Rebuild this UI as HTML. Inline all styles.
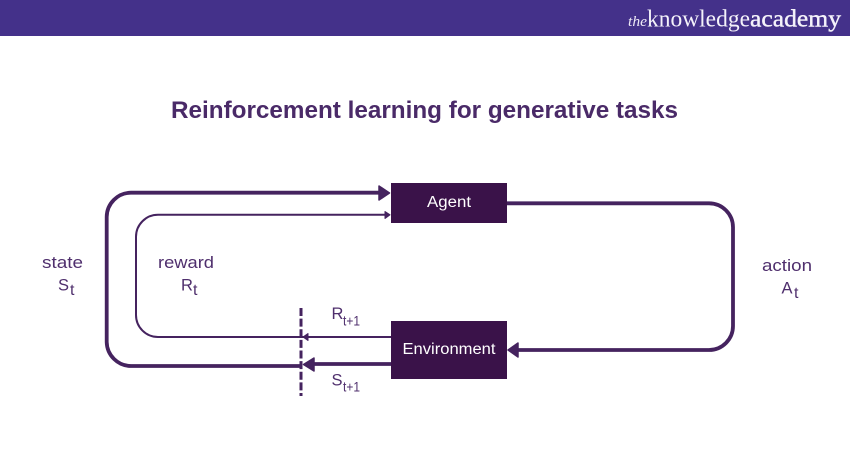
<!DOCTYPE html>
<html><head><meta charset="utf-8"><style>
html,body{margin:0;padding:0;background:#fff}
svg{display:block}
text{font-family:"Liberation Sans",sans-serif}
</style></head><body>
<svg width="850" height="450" viewBox="0 0 850 450" xmlns="http://www.w3.org/2000/svg">
<rect width="850" height="450" fill="#fff"/>
<rect width="850" height="36" fill="#44318a"/>
<text x="628" y="26" font-style="italic" font-size="15" fill="#eeeaf6" style="font-family:'Liberation Serif',serif" textLength="19" lengthAdjust="spacingAndGlyphs">the</text>
<text x="647" y="26.500" style="font-family:'Liberation Serif',serif" font-size="24" fill="#f4f2fa" textLength="103" lengthAdjust="spacingAndGlyphs">knowledge</text>
<text x="750" y="26.500" style="font-family:'Liberation Serif',serif" font-size="24" fill="#f4f2fa" stroke="#f4f2fa" stroke-width="0.400" textLength="91" lengthAdjust="spacingAndGlyphs">academy</text>

<text x="171" y="118" font-size="24" font-weight="bold" fill="#4a2a68" textLength="507" lengthAdjust="spacingAndGlyphs">Reinforcement learning for generative tasks</text>

<g fill="none" stroke="#45235f" stroke-linecap="butt">
<path d="M380 192.700H131A24.500 24.500 0 0 0 106.700 217V342A24.500 24.500 0 0 0 131 366H300" stroke-width="3.800"/>
<path d="M385 214.800H158A22 22 0 0 0 136 236.800V315A22 22 0 0 0 158 337H391" stroke-width="2"/>
<path d="M507 203.300H709A24 24 0 0 1 733 227.300V326A24 24 0 0 1 709 350H518" stroke-width="3.800"/>
<path d="M312 364H391" stroke-width="3.800"/>
<path d="M301 308V396" stroke-width="3" stroke-dasharray="8 2.630"/>
</g>
<g fill="#45235f" stroke="#45235f" stroke-linejoin="round">
<path d="M379 186L389.500 193L379 200Z" stroke-width="1.500"/>
<path d="M385 211.500L390 214.800L385 218.500Z" stroke-width="1"/>
<path d="M508 350L518 343V357Z" stroke-width="1.500"/>
<path d="M303 337L308 333.500V340.500Z" stroke-width="1"/>
<path d="M303.500 364.500L314 358V371Z" stroke-width="1.500"/>
</g>

<rect x="391" y="183" width="116" height="40" fill="#3a1249"/>
<rect x="391" y="321" width="116" height="58" fill="#3a1249"/>
<text x="427" y="207" font-size="15.500" fill="#fff" textLength="44" lengthAdjust="spacingAndGlyphs">Agent</text>
<text x="402.500" y="354" font-size="15.500" fill="#fff" textLength="93" lengthAdjust="spacingAndGlyphs">Environment</text>

<g fill="#4f2f6d" font-size="16.500">
<text x="42" y="268" textLength="41" lengthAdjust="spacingAndGlyphs">state</text>
<text x="58" y="290.500">S</text>
<text x="70" y="295" font-size="16">t</text>
<text x="158" y="268" textLength="56" lengthAdjust="spacingAndGlyphs">reward</text>
<text x="181" y="290.500">R</text>
<text x="193" y="295" font-size="16">t</text>
<text x="762" y="271" textLength="50" lengthAdjust="spacingAndGlyphs">action</text>
<text x="781.500" y="293.500">A</text>
<text x="794" y="298" font-size="16">t</text>
<text x="331.500" y="319">R</text>
<text x="343" y="325.500" font-size="14" textLength="17" lengthAdjust="spacingAndGlyphs">t+1</text>
<text x="331.500" y="385.500">S</text>
<text x="343" y="391.500" font-size="14" textLength="17" lengthAdjust="spacingAndGlyphs">t+1</text>
</g>
</svg>
</body></html>
